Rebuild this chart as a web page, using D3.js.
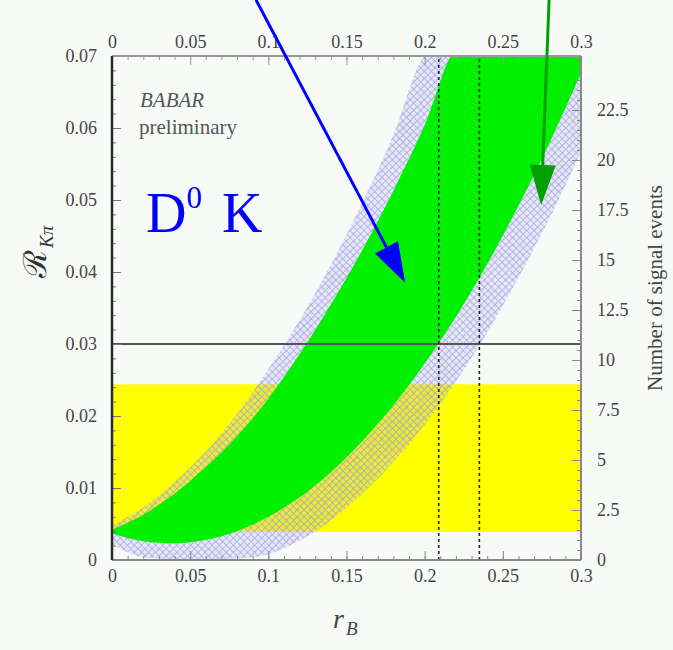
<!DOCTYPE html>
<meta charset="utf-8">
<style>
  body { margin: 0; background: #f8faf8; }
  svg { display: block; font-family: "Liberation Serif", "DejaVu Serif", serif; }
</style>
<svg width="673" height="650"></svg>
<script src="https://cdn.jsdelivr.net/npm/d3@7"></script>
<script>

// r_B grid the band edges were read on
var rB = [0, 0.02, 0.04, 0.06, 0.08, 0.10, 0.12, 0.14, 0.16, 0.18, 0.20, 0.22, 0.24, 0.26, 0.28, 0.30];

// inner (green) band edges, R_Kpi
var innerLow = [0.0037, 0.0026, 0.0023, 0.0028, 0.0040, 0.0060, 0.0087, 0.0122, 0.0165, 0.0215, 0.0273, 0.0338, 0.0411, 0.0492, 0.0580, 0.0676];
var innerUp  = [0.0042, 0.0063, 0.0092, 0.0129, 0.0172, 0.0224, 0.0286, 0.0355, 0.0430, 0.0513, 0.0604, 0.0708, 0.0720, 0.0720, 0.0720, 0.0720];

// outer (hatched) band edges
var outerLow = [0.0022, 0.0004, 0.0001, 0.0001, 0.0002, 0.0008, 0.0027, 0.0055, 0.0092, 0.0136, 0.0188, 0.0248, 0.0316, 0.0392, 0.0475, 0.0567];
var outerUp  = [0.0048, 0.0073, 0.0108, 0.0151, 0.0203, 0.0265, 0.0333, 0.0410, 0.0496, 0.0590, 0.0700, 0.0720, 0.0720, 0.0720, 0.0720, 0.0720];

// measured R_Kpi range (yellow) and its upper limit line
var yellowBand = [0.0039, 0.0244];
var upperLimit = 0.030;
var rBLimits = [0.209, 0.235];

var xTicks = [0, 0.05, 0.1, 0.15, 0.2, 0.25, 0.3];
var yTicks = [0, 0.01, 0.02, 0.03, 0.04, 0.05, 0.06, 0.07];
var nTicks = [0, 2.5, 5, 7.5, 10, 12.5, 15, 17.5, 20, 22.5];

// arrows: [r, R] at start and tip
var arrows = [
  {from: [0.0921, 0.0778], to: [0.1875, 0.0385], color: "#0000ff"},
  {from: [0.2796, 0.0778], to: [0.2745, 0.0493], color: "#00a000"}
];

var svg = d3.select("svg");

var x = d3.scaleLinear().domain([0, 0.3]).range([112, 581]);
var y = d3.scaleLinear().domain([0, 0.07]).range([560, 56]);
var yN = d3.scaleLinear().domain([0, 25.2]).range([560, 56]);

var defs = svg.append("defs");
defs.append("clipPath").attr("id", "plot")
  .append("rect")
  .attr("x", x(0)).attr("y", y(0.07))
  .attr("width", x(0.3) - x(0)).attr("height", y(0) - y(0.07));

var pat = defs.append("pattern")
  .attr("id", "xhatch")
  .attr("patternUnits", "userSpaceOnUse")
  .attr("width", 5).attr("height", 5)
  .attr("patternTransform", "rotate(45)");
pat.append("rect").attr("width", 5).attr("height", 5).attr("fill", "rgba(170,170,240,0.25)");
pat.append("line").attr("x1", 0).attr("y1", 0.5).attr("x2", 5).attr("y2", 0.5)
  .attr("stroke", "#9a9ada").attr("stroke-width", 1).attr("stroke-opacity", 0.6);
pat.append("line").attr("x1", 0.5).attr("y1", 0).attr("x2", 0.5).attr("y2", 5)
  .attr("stroke", "#9a9ada").attr("stroke-width", 1).attr("stroke-opacity", 0.6);

var g = svg.append("g").attr("clip-path", "url(#plot)");

g.append("rect")
  .attr("x", x(0)).attr("width", x(0.3) - x(0))
  .attr("y", y(yellowBand[1])).attr("height", y(yellowBand[0]) - y(yellowBand[1]))
  .attr("fill", "#ffff00");

var band = function(lo, hi) {
  return d3.area()
    .x(function(d, i) { return x(rB[i]); })
    .y0(function(d, i) { return y(lo[i]); })
    .y1(function(d, i) { return y(hi[i]); })
    .curve(d3.curveMonotoneX)(rB);
};

g.append("path").attr("d", band(outerLow, outerUp)).attr("fill", "url(#xhatch)");
g.append("path").attr("d", band(innerLow, innerUp)).attr("fill", "#00f000");

g.append("line")
  .attr("x1", x(0)).attr("x2", x(0.3))
  .attr("y1", y(upperLimit)).attr("y2", y(upperLimit))
  .attr("stroke", "#555").attr("stroke-width", 2);

g.selectAll(".lim").data(rBLimits).enter().append("line")
  .attr("x1", function(d) { return x(d); }).attr("x2", function(d) { return x(d); })
  .attr("y1", y(0)).attr("y2", y(0.07))
  .attr("stroke", "#222").attr("stroke-width", 1.6)
  .attr("stroke-dasharray", "3,3");

// axes: ticks point inward
var minorX = d3.range(0, 0.3001, 0.01);
var minorY = d3.range(0, 0.0701, 0.002);
var minorN = d3.range(0, 25.01, 0.5);

function tickStyle(sel, col) {
  sel.select(".domain").remove();
  sel.selectAll(".tick line").attr("stroke", col);
  sel.selectAll(".tick text")
    .attr("font-family", "Liberation Serif")
    .style("font-family", "'Liberation Serif', serif")
    .attr("font-size", 18)
    .attr("fill", "#444");
}

svg.append("g").attr("transform", "translate(0," + y(0) + ")")
  .call(d3.axisBottom(x).tickValues(minorX).tickSize(-4).tickFormat(""))
  .call(tickStyle, "#888");
svg.append("g").attr("transform", "translate(0," + y(0) + ")")
  .call(d3.axisBottom(x).tickValues(xTicks).tickSize(-9).tickPadding(9).tickFormat(d3.format("")))
  .call(tickStyle, "#888");

svg.append("g").attr("transform", "translate(0," + y(0.07) + ")")
  .call(d3.axisTop(x).tickValues(minorX).tickSize(-4).tickFormat(""))
  .call(tickStyle, "#999");
svg.append("g").attr("transform", "translate(0," + y(0.07) + ")")
  .call(d3.axisTop(x).tickValues(xTicks).tickSize(-9).tickPadding(8).tickFormat(d3.format("")))
  .call(tickStyle, "#999");

svg.append("g").attr("transform", "translate(" + x(0) + ",0)")
  .call(d3.axisLeft(y).tickValues(minorY).tickSize(-4).tickFormat(""))
  .call(tickStyle, "#777");
svg.append("g").attr("transform", "translate(" + x(0) + ",0)")
  .call(d3.axisLeft(y).tickValues(yTicks).tickSize(-9).tickPadding(15).tickFormat(d3.format("")))
  .call(tickStyle, "#777");

svg.append("g").attr("transform", "translate(" + x(0.3) + ",0)")
  .call(d3.axisRight(yN).tickValues(minorN).tickSize(-4).tickFormat(""))
  .call(tickStyle, "#888");
svg.append("g").attr("transform", "translate(" + x(0.3) + ",0)")
  .call(d3.axisRight(yN).tickValues(nTicks).tickSize(-9).tickPadding(16).tickFormat(d3.format("")))
  .call(tickStyle, "#888");

// frame
svg.append("line").attr("x1", x(0)).attr("x2", x(0.3)).attr("y1", y(0)).attr("y2", y(0)).attr("stroke", "#888").attr("stroke-width", 2);
svg.append("line").attr("x1", x(0)).attr("x2", x(0.3)).attr("y1", y(0.07)).attr("y2", y(0.07)).attr("stroke", "#999").attr("stroke-width", 2);
svg.append("line").attr("x1", x(0.3)).attr("x2", x(0.3)).attr("y1", y(0)).attr("y2", y(0.07)).attr("stroke", "#888").attr("stroke-width", 2);
svg.append("line").attr("x1", x(0)).attr("x2", x(0)).attr("y1", y(0)).attr("y2", y(0.07)).attr("stroke", "#2a2a2a").attr("stroke-width", 2.5);

// labels
svg.append("text").attr("x", 140).attr("y", 107)
  .attr("font-style", "italic").attr("font-size", 21).attr("fill", "#555").text("BABAR");
svg.append("text").attr("x", 139).attr("y", 134)
  .attr("font-size", 21).attr("fill", "#555").text("preliminary");

var dk = svg.append("text").attr("x", 146).attr("y", 232).attr("fill", "#0000ff").attr("font-size", 56);
dk.append("tspan").text("D");
dk.append("tspan").attr("font-size", 31).attr("dy", -24).text("0");
dk.append("tspan").attr("dy", 24).attr("dx", 6).text(" K");

var yl = svg.append("text").attr("transform", "translate(46,278) rotate(-90)")
  .attr("font-size", 32).attr("fill", "#333");
yl.append("tspan").text("\u211B");
yl.append("tspan").attr("font-size", 19).attr("font-style", "italic").attr("dy", 7).attr("dx", 2).text("K\u03C0");

svg.append("text").attr("transform", "translate(662,288) rotate(-90)")
  .attr("text-anchor", "middle").attr("font-size", 21).attr("fill", "#444")
  .text("Number of signal events");

var xl = svg.append("text").attr("x", 333).attr("y", 628).attr("fill", "#444")
  .attr("font-style", "italic").attr("font-size", 28);
xl.append("tspan").text("r");
xl.append("tspan").attr("font-size", 19).attr("dy", 7).attr("dx", 2).text("B");

// arrows
arrows.forEach(function(a) {
  var x0 = x(a.from[0]), y0 = y(a.from[1]), x1 = x(a.to[0]), y1 = y(a.to[1]);
  var ang = Math.atan2(y1 - y0, x1 - x0), L = 40, W = 13;
  var bx = x1 - L * Math.cos(ang), by = y1 - L * Math.sin(ang);
  svg.append("line").attr("x1", x0).attr("y1", y0).attr("x2", bx).attr("y2", by)
    .attr("stroke", a.color).attr("stroke-width", 3);
  svg.append("polygon")
    .attr("points", [[x1, y1],
      [bx + W * Math.sin(ang), by - W * Math.cos(ang)],
      [bx - W * Math.sin(ang), by + W * Math.cos(ang)]].map(function(p) { return p.join(","); }).join(" "))
    .attr("fill", a.color);
});

</script>
